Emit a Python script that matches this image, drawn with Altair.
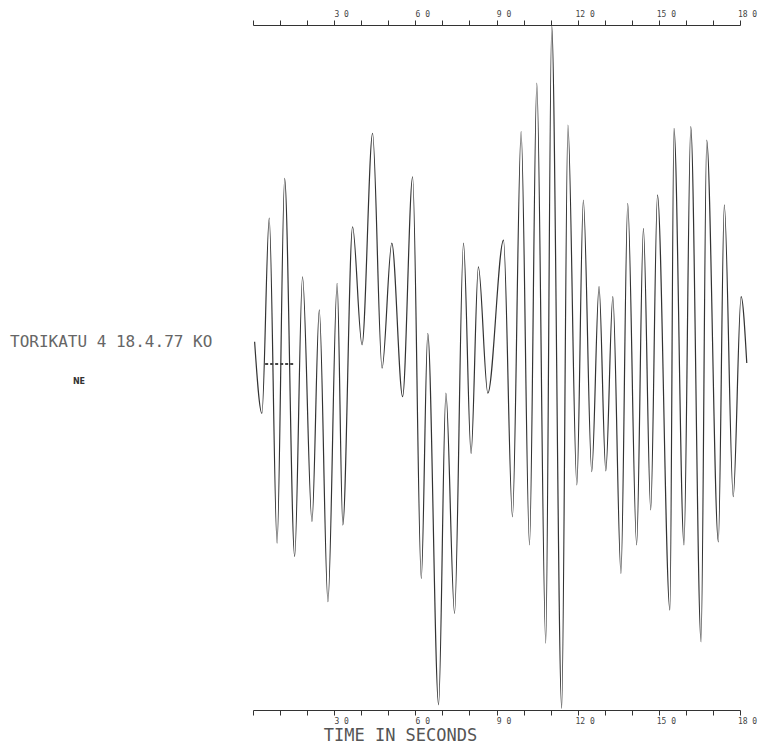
import altair as alt
import pandas as pd

# Seismogram trace: time (s) of each turning point and its relative amplitude
times = [0.6, 3.3, 6.0, 8.9, 11.7, 15.4, 18.3, 21.8, 24.5, 27.7,
         31.1, 33.2, 36.8, 40.3, 44.2, 47.7, 51.3, 55.3, 59.0, 62.2,
         64.6, 68.6, 71.3, 74.5, 77.8, 80.6, 83.3, 86.8, 92.6, 95.9,
         99.1, 102.2, 104.9, 108.2, 110.4, 114.1, 116.4, 119.7, 122.1, 125.2,
         127.9, 130.4, 133.0, 136.0, 138.5, 141.8, 144.3, 147.0, 149.5, 154.1,
         155.6, 159.3, 161.8, 165.6, 167.7, 172.0, 174.2, 177.5, 180.4, 182.5]
amps = [7.5, -13.4, 43.6, -51.3, 55.2, -55.2, 26.5, -45.0, 16.8, -68.4,
        24.6, -46.0, 41.1, 6.6, 68.4, -0.2, 36.3, -8.5, 55.7, -61.6,
        10.0, -98.5, -7.5, -71.8, 36.3, -25.1, 29.4, -7.5, 37.2, -43.6,
        68.9, -51.8, 83.0, -80.5, 100.0, -99.5, 70.8, -34.3, 48.9, -30.4,
        23.6, -30.2, 20.7, -60.1, 47.9, -51.8, 40.6, -41.6, 50.4, -70.8,
        69.8, -51.8, 70.3, -80.1, 66.4, -50.9, 47.5, -37.7, 20.7, 1.3]

tick_values = list(range(0, 181, 10))
station_label = ["TORIKATU 4 18.4.77 KO"]
component_label = ["NE"]
marker_start = [4.5]
marker_end = [14.9]
marker_amp = [1.0]

trace = pd.DataFrame({"t": times, "a": amps})
marker = pd.DataFrame({"t": marker_start, "t2": marker_end, "a": marker_amp})

x_scale = alt.Scale(domain=[0, 180], nice=False, zero=False)
y_scale = alt.Scale(domain=[-100, 100], nice=False, zero=False)

label_expr = "datum.value > 0 && datum.value % 30 == 0 ? (datum.value / 10) + ' 0' : ''"
common_axis = dict(
    values=tick_values, labelExpr=label_expr, labelFont="DejaVu Sans Mono",
    labelFontSize=8, labelColor="#444", labelOffset=7, labelPadding=2,
    tickSize=5, tickColor="#333", tickWidth=1, domainColor="#333", domainWidth=1,
    grid=False, labelFlush=False, labelOverlap=False,
)

line = alt.Chart(trace).mark_line(
    color="#333", strokeWidth=1.2, interpolate="monotone"
).encode(
    x=alt.X("t:Q", scale=x_scale, axis=alt.Axis(
        orient="bottom", title="TIME IN SECONDS", titleX=147, titleY=25,
        titleAlign="center", titleBaseline="middle", titleFont="DejaVu Sans Mono",
        titleFontSize=17, titleFontWeight="normal", titleColor="#555", **common_axis)),
    y=alt.Y("a:Q", scale=y_scale, axis=None),
)

mark = alt.Chart(marker).mark_rule(
    color="#444", strokeWidth=2, strokeDash=[3, 2]
).encode(
    x=alt.X("t:Q", scale=x_scale, axis=alt.Axis(orient="top", title=None, **common_axis)),
    x2="t2:Q",
    y=alt.Y("a:Q", scale=y_scale, axis=None),
)

station = alt.Chart(pd.DataFrame({"label": station_label})).mark_text(
    align="left", baseline="middle", font="DejaVu Sans Mono", fontSize=16, color="#666"
).encode(x=alt.value(-243), y=alt.value(317), text="label:N")

comp = alt.Chart(pd.DataFrame({"label": component_label})).mark_text(
    align="center", baseline="middle", font="DejaVu Sans", fontSize=8,
    fontWeight="bold", color="#333"
).encode(x=alt.value(-174), y=alt.value(357), text="label:N")

chart = alt.layer(line, mark, station, comp).resolve_axis(x="independent").properties(
    width=487, height=685,
    autosize=alt.AutoSizeParams(type="none"),
    padding={"left": 253, "top": 25, "right": 29, "bottom": 33},
).configure_view(strokeWidth=0)

chart.save("out.html", embed_options={"renderer": "svg", "actions": False})
